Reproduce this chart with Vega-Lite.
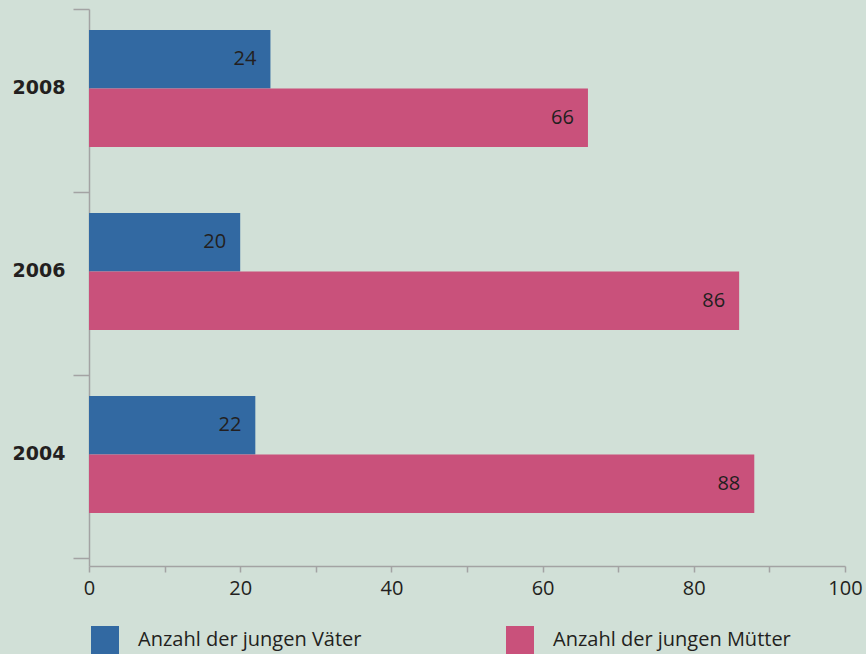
{
  "$schema": "https://vega.github.io/schema/vega-lite/v6.json",
  "width": 756,
  "height": 557,
  "autosize": {"type": "none"},
  "padding": {"left": 89, "top": 9, "right": 21, "bottom": 88},
  "background": "#d1e0d7",
  "config": {"view": {"stroke": null}, "font": "Open Sans"},
  "data": {
    "values": [
      {"year": "2008", "series": "Anzahl der jungen Väter", "value": 24},
      {"year": "2008", "series": "Anzahl der jungen Mütter", "value": 66},
      {"year": "2006", "series": "Anzahl der jungen Väter", "value": 20},
      {"year": "2006", "series": "Anzahl der jungen Mütter", "value": 86},
      {"year": "2004", "series": "Anzahl der jungen Väter", "value": 22},
      {"year": "2004", "series": "Anzahl der jungen Mütter", "value": 88}
    ]
  },
  "encoding": {
    "y": {
      "field": "year",
      "type": "nominal",
      "sort": ["2008", "2006", "2004"],
      "scale": {"paddingInner": 0, "paddingOuter": 0.022, "align": 0},
      "axis": {
        "title": null,
        "domainColor": "#a3a3a3",
        "domainWidth": 1.5,
        "tickColor": "#a3a3a3",
        "tickWidth": 1.5,
        "tickSize": 16,
        "tickBand": "extent",
        "labelFont": "DejaVu Sans",
        "labelFontWeight": "bold",
        "labelFontSize": 19,
        "labelColor": "#231f20",
        "labelPadding": 8,
        "labelOffset": -13
      }
    },
    "yOffset": {
      "field": "series",
      "type": "nominal",
      "sort": ["Anzahl der jungen Väter", "Anzahl der jungen Mütter"],
      "scale": {"paddingInner": 0, "paddingOuter": 0.564, "align": 0.318}
    },
    "x": {
      "field": "value",
      "type": "quantitative",
      "scale": {"domain": [0, 100], "nice": false},
      "axis": {
        "title": null,
        "grid": false,
        "values": [0, 10, 20, 30, 40, 50, 60, 70, 80, 90, 100],
        "labelExpr": "datum.value % 20 == 0 ? datum.label : ''",
        "domainColor": "#a3a3a3",
        "domainWidth": 1.5,
        "tickColor": "#a3a3a3",
        "tickWidth": 1.5,
        "tickSize": 6,
        "labelFontSize": 20,
        "labelColor": "#231f20",
        "labelPadding": 6,
        "labelFlush": false
      }
    }
  },
  "layer": [
    {
      "mark": {"type": "bar"},
      "encoding": {
        "color": {
          "field": "series",
          "type": "nominal",
          "scale": {
            "domain": ["Anzahl der jungen Väter", "Anzahl der jungen Mütter"],
            "range": ["#3269a2", "#c9517b"]
          },
          "legend": {
            "title": null,
            "orient": "none",
            "legendX": 2,
            "legendY": 617,
            "direction": "horizontal",
            "columnPadding": 144,
            "symbolType": "square",
            "symbolSize": 784,
            "symbolStrokeWidth": 0,
            "symbolOpacity": 1,
            "labelFontSize": 20,
            "labelColor": "#231f20",
            "labelOffset": 19,
            "labelLimit": 500,
            "padding": 0
          }
        }
      }
    },
    {
      "mark": {"type": "text", "align": "right", "baseline": "middle", "dx": -14, "fontSize": 20, "color": "#231f20"},
      "encoding": {"text": {"field": "value", "type": "quantitative"}}
    }
  ]
}
